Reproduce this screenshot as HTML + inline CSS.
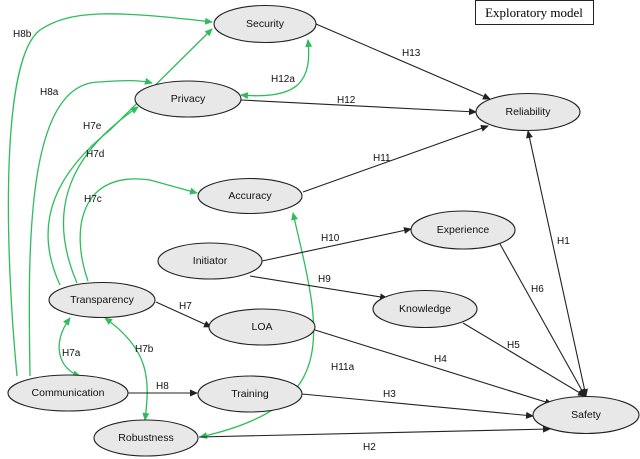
<!DOCTYPE html>
<html><head><meta charset="utf-8"><style>
body{margin:0;background:#fff}
svg{display:block;font-family:"Liberation Sans",sans-serif}
.e{fill:#e8e8e8;stroke:#222;stroke-width:1.1}
.n{font-size:10.5px;fill:#111;text-anchor:middle;dominant-baseline:central}
.l{font-size:10px;fill:#111}
.g{fill:none;stroke:#2dbd5a;stroke-width:1.3}
.b{fill:none;stroke:#222;stroke-width:1.1}
</style></head><body>
<svg width="640" height="459" viewBox="0 0 640 459">
<defs>
<marker id="ag" markerWidth="8" markerHeight="8" refX="7" refY="4" orient="auto-start-reverse" markerUnits="userSpaceOnUse"><path d="M0,0.5 L8,4 L0,7.5z" fill="#2dbd5a"/></marker>
<marker id="ab" markerWidth="8" markerHeight="8" refX="7" refY="4" orient="auto-start-reverse" markerUnits="userSpaceOnUse"><path d="M0,0.5 L8,4 L0,7.5z" fill="#222"/></marker>
</defs>
<rect x="475.5" y="0.5" width="118" height="24" fill="#fff" stroke="#222"/>
<text x="534" y="17" text-anchor="middle" style="font-family:'Liberation Serif',serif;font-size:13px">Exploratory model</text>

<!-- green -->
<path class="g" marker-end="url(#ag)" d="M17,376 C5,250 0,60 40,30 C70,10 110,10 212,22"/>
<path class="g" marker-end="url(#ag)" d="M30,376 C28,250 25,82 100,82 C125,80 140,80 152,83"/>
<path class="g" marker-end="url(#ag)" d="M60,285 C30,220 60,170 110,130 L212,29"/>
<path class="g" marker-end="url(#ag)" d="M77,283 C50,220 60,160 138,107"/>
<path class="g" marker-end="url(#ag)" d="M88,281 C70,230 80,170 150,180 L197,193"/>
<path class="g" marker-start="url(#ag)" marker-end="url(#ag)" d="M308,40 C312,80 300,100 241,95"/>
<path class="g" marker-start="url(#ag)" marker-end="url(#ag)" d="M293,213 C320,330 345,405 200,437"/>
<path class="g" marker-start="url(#ag)" marker-end="url(#ag)" d="M70,318 C50,345 60,370 80,376"/>
<path class="g" marker-start="url(#ag)" marker-end="url(#ag)" d="M105,318 C150,350 150,380 145,420"/>

<!-- black -->
<path class="b" marker-end="url(#ab)" d="M316,24 L490,99"/>
<path class="b" marker-end="url(#ab)" d="M241,100 L476,112"/>
<path class="b" marker-end="url(#ab)" d="M303,192 L488,126"/>
<path class="b" marker-end="url(#ab)" d="M262,261 L411,229"/>
<path class="b" marker-end="url(#ab)" d="M250,276 L387,298"/>
<path class="b" marker-end="url(#ab)" d="M156,302 L211,327"/>
<path class="b" marker-end="url(#ab)" d="M315,330 L552,404"/>
<path class="b" marker-end="url(#ab)" d="M463,323 L585,396"/>
<path class="b" marker-end="url(#ab)" d="M500,244 L585,396"/>
<path class="b" marker-start="url(#ab)" marker-end="url(#ab)" d="M586,396 L528,131"/>
<path class="b" marker-end="url(#ab)" d="M128,393 L197,393"/>
<path class="b" marker-end="url(#ab)" d="M302,394 L533,416"/>
<path class="b" marker-end="url(#ab)" d="M199,437 L550,429"/>

<!-- nodes -->
<ellipse class="e" cx="265" cy="24" rx="51" ry="18.5"/><text class="n" x="265" y="24">Security</text>
<ellipse class="e" cx="188" cy="99" rx="53" ry="18"/><text class="n" x="188" y="99">Privacy</text>
<ellipse class="e" cx="250" cy="196" rx="52" ry="17.5"/><text class="n" x="250" y="196">Accuracy</text>
<ellipse class="e" cx="210" cy="261" rx="52" ry="18"/><text class="n" x="210" y="261">Initiator</text>
<ellipse class="e" cx="102" cy="300" rx="53" ry="17.5"/><text class="n" x="102" y="300">Transparency</text>
<ellipse class="e" cx="262" cy="327" rx="53" ry="18"/><text class="n" x="262" y="327">LOA</text>
<ellipse class="e" cx="68" cy="393" rx="60" ry="18"/><text class="n" x="68" y="393">Communication</text>
<ellipse class="e" cx="250" cy="394" rx="52" ry="18"/><text class="n" x="250" y="394">Training</text>
<ellipse class="e" cx="146" cy="438" rx="52" ry="18"/><text class="n" x="146" y="438">Robustness</text>
<ellipse class="e" cx="528" cy="112" rx="52" ry="18.5"/><text class="n" x="528" y="112">Reliability</text>
<ellipse class="e" cx="463" cy="230" rx="52" ry="19"/><text class="n" x="463" y="230">Experience</text>
<ellipse class="e" cx="425" cy="309" rx="52" ry="18.5"/><text class="n" x="425" y="309">Knowledge</text>
<ellipse class="e" cx="586" cy="415" rx="53" ry="18.5"/><text class="n" x="586" y="415">Safety</text>

<!-- labels -->
<text class="l" x="13" y="37">H8b</text>
<text class="l" x="40" y="95">H8a</text>
<text class="l" x="83" y="129">H7e</text>
<text class="l" x="86" y="157">H7d</text>
<text class="l" x="84" y="202">H7c</text>
<text class="l" x="271" y="82">H12a</text>
<text class="l" x="402" y="56">H13</text>
<text class="l" x="337" y="103">H12</text>
<text class="l" x="373" y="161">H11</text>
<text class="l" x="321" y="241">H10</text>
<text class="l" x="318" y="282">H9</text>
<text class="l" x="179" y="309">H7</text>
<text class="l" x="331" y="370">H11a</text>
<text class="l" x="434" y="362">H4</text>
<text class="l" x="507" y="348">H5</text>
<text class="l" x="531" y="292">H6</text>
<text class="l" x="557" y="244">H1</text>
<text class="l" x="156" y="389">H8</text>
<text class="l" x="383" y="397">H3</text>
<text class="l" x="363" y="450">H2</text>
<text class="l" x="62" y="356">H7a</text>
<text class="l" x="135" y="352">H7b</text>
</svg>
</body></html>
